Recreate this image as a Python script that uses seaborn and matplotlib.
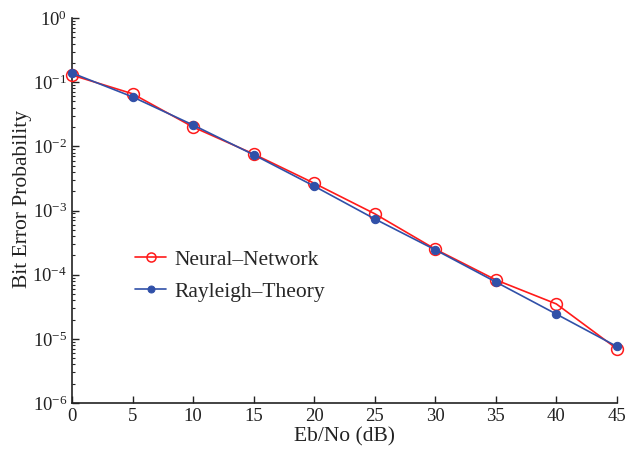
import numpy as np
import pandas as pd
import matplotlib
matplotlib.use("Agg")
import matplotlib.pyplot as plt
import seaborn as sns
from matplotlib.ticker import LogLocator, NullFormatter

# values
ebno = [0, 5, 10, 15, 20, 25, 30, 35, 40, 45]
ber_nn = [0.129, 0.066, 0.020, 0.0076, 0.00266, 0.00089, 0.00025, 8.3e-5, 3.5e-5, 7.0e-6]
ber_theory = [0.139, 0.059, 0.0215, 0.0074, 0.0024, 0.00074, 0.000244, 7.7e-5, 2.43e-5, 7.6e-6]
x_ticks = [0, 5, 10, 15, 20, 25, 30, 35, 40, 45]

sns.set_style("ticks")
plt.rcParams['font.family'] = ['Liberation Serif', 'DejaVu Serif']
plt.rcParams['mathtext.fontset'] = 'custom'
plt.rcParams['mathtext.rm'] = 'Liberation Serif'
plt.rcParams['mathtext.it'] = 'Liberation Serif:italic'
plt.rcParams['xtick.direction'] = 'in'
plt.rcParams['ytick.direction'] = 'in'

df = pd.DataFrame({
    'x': ebno * 2,
    'y': ber_nn + ber_theory,
    'series': ['Neural\u2013Network'] * len(ebno) + ['Rayleigh\u2013Theory'] * len(ebno),
})

fig = plt.figure(figsize=(6.25, 4.55), dpi=100)
ax = fig.add_axes([0.1152, 0.1143, 0.8718, 0.8461])

sns.lineplot(data=df[df.series == 'Neural\u2013Network'], x='x', y='y', ax=ax,
             color='#ff1a1a', lw=1.2, marker='o', markersize=8.5,
             markerfacecolor='none', markeredgecolor='#ff1a1a', markeredgewidth=1.1,
             label='Neural\u2013Network', clip_on=False, zorder=3)
sns.lineplot(data=df[df.series == 'Rayleigh\u2013Theory'], x='x', y='y', ax=ax,
             color='#3050a8', lw=1.2, marker='o', markersize=6,
             markerfacecolor='#3050a8', markeredgecolor='#3050a8',
             label='Rayleigh\u2013Theory', clip_on=False, zorder=4)

ax.set_yscale('log')
ax.set_ylim(1e-6, 1)
ax.set_xlim(0, 45)
ax.set_xticks(x_ticks)
ax.yaxis.set_major_locator(LogLocator(base=10, numticks=10))
ax.yaxis.set_minor_locator(LogLocator(base=10, subs=np.arange(2, 10), numticks=100))
ax.yaxis.set_minor_formatter(NullFormatter())
ax.tick_params(axis='both', which='major', labelsize=13.5, length=5, width=1, colors='#222222')
ax.tick_params(axis='y', which='minor', length=2.5, width=0.8)
ax.xaxis.get_offset_text().set_visible(False)
ax.yaxis.get_offset_text().set_visible(False)
ax.set_xlabel('Eb/No (dB)', fontsize=15.5, color='#222222', labelpad=2)
ax.set_ylabel('Bit Error Probability', fontsize=15.5, color='#222222')
ax.yaxis.set_label_coords(-0.074, 0.53)
for side in ['top', 'right']:
    ax.spines[side].set_visible(False)
for side in ['left', 'bottom']:
    ax.spines[side].set_color('#222222')
    ax.spines[side].set_linewidth(1.2)

leg = ax.legend(loc='center left', bbox_to_anchor=(0.1156, 0.33), frameon=False,
                fontsize=15.5, handlelength=1.45, handletextpad=0.4,
                labelspacing=0.55, borderpad=0, borderaxespad=0)
for h, ms in zip(leg.legend_handles, [6.5, 5]):
    h.set_markersize(ms)

fig.savefig('out.png', dpi=100)
